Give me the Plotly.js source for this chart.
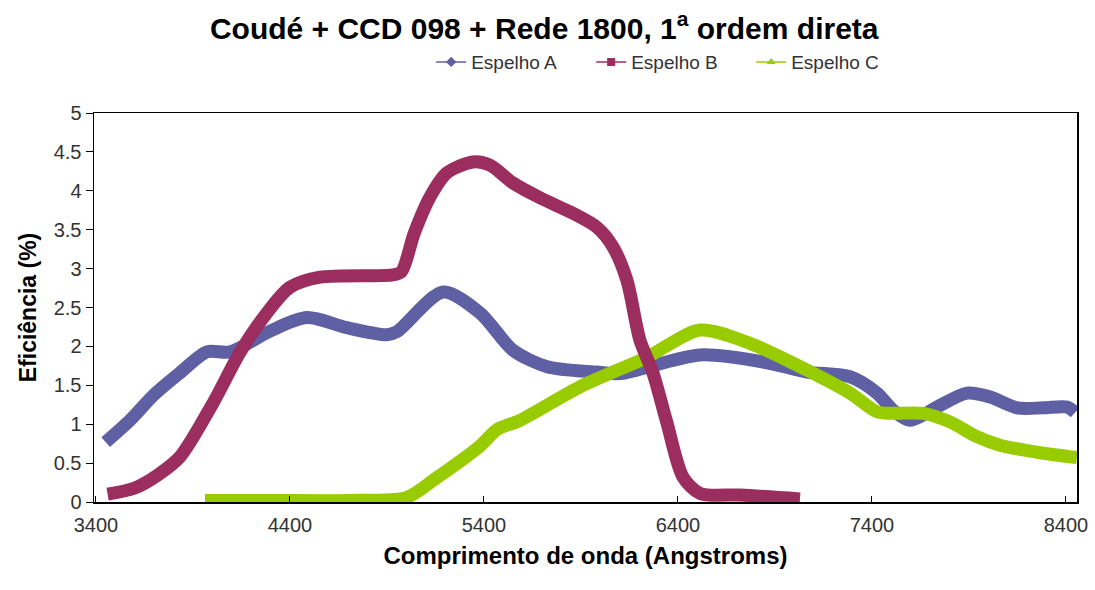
<!DOCTYPE html>
<html>
<head>
<meta charset="utf-8">
<script src="https://cdn.plot.ly/plotly-3.0.1.min.js"></script>
<style>html,body{margin:0;padding:0;background:#fff;}#chart{width:1095px;height:590px;}</style>
</head>
<body>
<div id="chart"></div>
<script>
// Espelho A
const xA = [3450, 3575, 3700, 3833, 3972, 4091, 4300, 4488, 4694, 4900, 4952, 5189, 5380, 5550, 5725, 5983, 6101, 6514, 6859, 7065, 7287, 7426, 7509, 7596, 7735, 7890, 8009, 8148, 8282, 8406, 8447];
const yA = [0.77, 1.05, 1.38, 1.66, 1.93, 1.93, 2.2, 2.37, 2.24, 2.15, 2.19, 2.70, 2.43, 1.95, 1.74, 1.67, 1.65, 1.89, 1.79, 1.67, 1.61, 1.40, 1.18, 1.05, 1.22, 1.40, 1.35, 1.21, 1.21, 1.22, 1.15];
// Espelho B
const xB = [3460, 3600, 3720, 3833, 4003, 4142, 4281, 4400, 4555, 4930, 4975, 5040, 5122, 5209, 5343, 5431, 5550, 5689, 5859, 5983, 6065, 6137, 6204, 6271, 6343, 6426, 6514, 6720, 7029];
const yB = [0.10, 0.18, 0.35, 0.58, 1.27, 1.92, 2.43, 2.76, 2.89, 2.92, 2.96, 3.45, 3.92, 4.23, 4.37, 4.33, 4.10, 3.91, 3.71, 3.53, 3.28, 2.85, 2.08, 1.66, 1.02, 0.32, 0.11, 0.09, 0.04];
// Espelho C
const xC = [3962, 4300, 4700, 5003, 5150, 5380, 5467, 5586, 5895, 6240, 6514, 6771, 7029, 7287, 7426, 7509, 7663, 7802, 7941, 8060, 8251, 8457];
const yC = [0.02, 0.02, 0.02, 0.06, 0.30, 0.72, 0.93, 1.05, 1.48, 1.86, 2.21, 2.04, 1.74, 1.40, 1.16, 1.14, 1.14, 1.03, 0.84, 0.73, 0.64, 0.57];

const names = ['Espelho A', 'Espelho B', 'Espelho C'];
const colors = ['#5F5FA3', '#9B2D5F', '#99CC00'];
const symbols = ['diamond', 'square', 'triangle-up'];
const xs = [xA, xB, xC];
const ys = [yA, yB, yC];

const traces = [];
[0, 2, 1].forEach(i => {
  traces.push({
    x: xs[i], y: ys[i], type: 'scatter', mode: 'lines',
    line: {color: colors[i], width: 13, shape: 'spline', smoothing: 0.8},
    showlegend: false, hoverinfo: 'skip'
  });
});
[0, 1, 2].forEach(i => {
  traces.push({
    x: [null], y: [null], type: 'scatter', mode: 'lines+markers', name: names[i],
    line: {color: colors[i], width: 1.5},
    marker: {symbol: symbols[i], size: 8, color: colors[i]},
    showlegend: true
  });
});

const layout = {
  width: 1095, height: 590,
  paper_bgcolor: '#ffffff', plot_bgcolor: '#ffffff',
  margin: {l: 94, r: 18, t: 113, b: 88},
  font: {family: 'Liberation Sans, Arial, sans-serif', color: '#333'},
  title: {
    text: 'Coudé + CCD 098 + Rede 1800, 1<sup>a</sup> ordem direta',
    font: {family: 'Liberation Sans, Arial, sans-serif', size: 30, color: '#000', weight: 'bold'},
    x: 0.497, xanchor: 'center', xref: 'container', y: 0.952, yanchor: 'middle'
  },
  xaxis: {
    range: [3390, 8457], tickmode: 'array', tickvals: [3400, 4400, 5400, 6400, 7400, 8400],
    ticktext: ['3400', '4400', '5400', '6400', '7400', '8400'],
    showgrid: false, zeroline: false, showline: true, linecolor: '#000', linewidth: 1.5, mirror: true,
    ticks: 'inside', ticklen: 6, tickcolor: '#000', ticklabelstandoff: 4,
    tickfont: {size: 20, color: '#333'},
    title: {text: 'Comprimento de onda (Angstroms)', font: {size: 24, color: '#000', weight: 'bold'}, standoff: 12}
  },
  yaxis: {
    range: [0, 5], tickmode: 'array', tickvals: [0, 0.5, 1, 1.5, 2, 2.5, 3, 3.5, 4, 4.5, 5],
    ticktext: ['0', '0.5', '1', '1.5', '2', '2.5', '3', '3.5', '4', '4.5', '5'],
    showgrid: false, zeroline: false, showline: true, linecolor: '#000', linewidth: 1.5, mirror: true,
    ticks: 'outside', ticklen: 7, tickcolor: '#000',
    tickfont: {size: 20, color: '#333'},
    title: {text: 'Eficiência (%)', font: {size: 23, color: '#000', weight: 'bold'}, standoff: 10}
  },
  legend: {
    orientation: 'h', x: 0.343, xanchor: 'left', y: 1.131, yanchor: 'middle',
    font: {size: 19, color: '#333'}, bgcolor: 'rgba(0,0,0,0)', itemwidth: 30, tracegroupgap: 0,
    entrywidth: 115, entrywidthmode: 'pixels'
  },
  showlegend: true
};

Plotly.newPlot('chart', traces, layout, {displayModeBar: false, staticPlot: true});
</script>
</body>
</html>
